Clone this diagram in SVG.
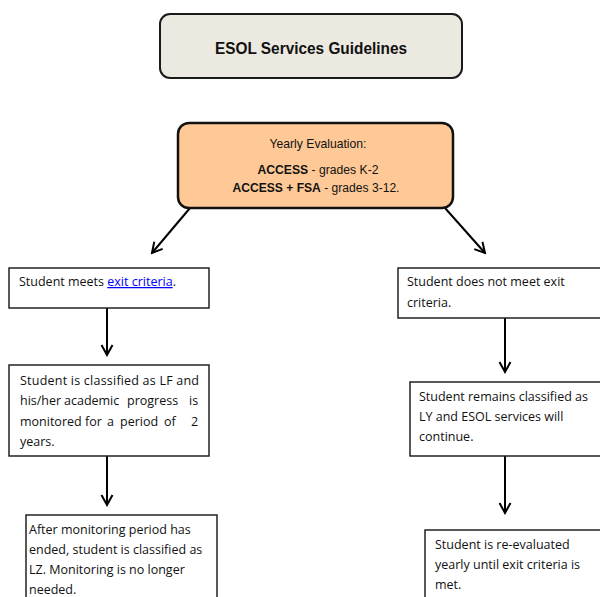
<svg xmlns="http://www.w3.org/2000/svg" width="600" height="597" viewBox="0 0 600 597">
<style>
.box{fill:#ffffff;stroke:#222;stroke-width:1.5}
.t{font-family:"Open Sans","Noto Sans",sans-serif;font-size:12.5px;fill:#111}
.h{font-family:"Liberation Sans",Arial,sans-serif;fill:#111}
.c{stroke:#000;stroke-width:2;fill:none}
</style>
<defs>
<marker id="ah" markerUnits="userSpaceOnUse" markerWidth="14" markerHeight="14" viewBox="0 0 14 14" refX="12" refY="7" orient="auto">
<path d="M2,1.5 L12,7 L2,12.5" fill="none" stroke="#000" stroke-width="2"/>
</marker>
</defs>
<rect width="600" height="597" fill="#fff"/>
<g id="connectors">
<line class="c" x1="190" y1="208" x2="152" y2="253" marker-end="url(#ah)"/>
<line class="c" x1="445" y1="208" x2="485" y2="253" marker-end="url(#ah)"/>
<line class="c" x1="107" y1="308" x2="107" y2="355" marker-end="url(#ah)"/>
<line class="c" x1="107" y1="456" x2="107" y2="505" marker-end="url(#ah)"/>
<line class="c" x1="505" y1="318" x2="505" y2="372" marker-end="url(#ah)"/>
<line class="c" x1="505" y1="456" x2="505" y2="513" marker-end="url(#ah)"/>
</g>
<g id="title">
<rect x="160" y="14" width="302" height="64" rx="10" fill="#ECE9E0" stroke="#1a1a1a" stroke-width="2"/>
<text class="h" x="311" y="54" font-size="17" font-weight="bold" text-anchor="middle" textLength="192" lengthAdjust="spacingAndGlyphs">ESOL Services Guidelines</text>
</g>
<g id="evaluation">
<rect x="178" y="123" width="275" height="85" rx="11" fill="#FEC996" stroke="#111" stroke-width="2.5"/>
<text class="h" x="318" y="148" font-size="13" text-anchor="middle" textLength="97" lengthAdjust="spacingAndGlyphs">Yearly Evaluation:</text>
<text class="h" x="318" y="174" font-size="12.5" text-anchor="middle" textLength="121" lengthAdjust="spacingAndGlyphs"><tspan font-weight="bold">ACCESS</tspan> - grades K-2</text>
<text class="h" x="316" y="192" font-size="12.5" text-anchor="middle" textLength="167" lengthAdjust="spacingAndGlyphs"><tspan font-weight="bold">ACCESS + FSA</tspan> - grades 3-12.</text>
</g>
<g id="meets">
<rect class="box" x="9" y="268" width="200" height="40"/>
<text class="t" x="19" y="286">Student meets <tspan fill="#0000FF" text-decoration="underline">exit criteria</tspan>.</text>
</g>
<g id="not-meet">
<rect class="box" x="398" y="268" width="205" height="50"/>
<text class="t" x="407" y="286">Student does not meet exit</text>
<text class="t" x="407" y="307">criteria.</text>
</g>
<g id="classified-lf">
<rect class="box" x="9" y="365" width="200" height="91"/>
<text class="t" x="20" y="385" textLength="179" lengthAdjust="spacing">Student is classified as LF and</text>
<text class="t" y="405"><tspan x="20">his/her</tspan><tspan x="64">academic</tspan><tspan x="127">progress</tspan><tspan x="189">is</tspan></text>
<text class="t" y="426"><tspan x="20">monitored</tspan><tspan x="85">for</tspan><tspan x="107">a</tspan><tspan x="120">period</tspan><tspan x="164">of</tspan><tspan x="191">2</tspan></text>
<text class="t" x="20" y="446">years.</text>
</g>
<g id="remains-ly">
<rect class="box" x="410" y="382" width="193" height="74"/>
<text class="t" x="419" y="401">Student remains classified as</text>
<text class="t" x="419" y="421">LY and ESOL services will</text>
<text class="t" x="419" y="441">continue.</text>
</g>
<g id="classified-lz">
<rect class="box" x="26" y="515" width="191" height="90"/>
<text class="t" x="29" y="534">After monitoring period has</text>
<text class="t" x="29" y="554">ended, student is classified as</text>
<text class="t" x="29" y="574">LZ. Monitoring is no longer</text>
<text class="t" x="29" y="594">needed.</text>
</g>
<g id="re-evaluated">
<rect class="box" x="425" y="530" width="178" height="75"/>
<text class="t" x="435" y="549">Student is re-evaluated</text>
<text class="t" x="435" y="569">yearly until exit criteria is</text>
<text class="t" x="435" y="589">met.</text>
</g>
</svg>
